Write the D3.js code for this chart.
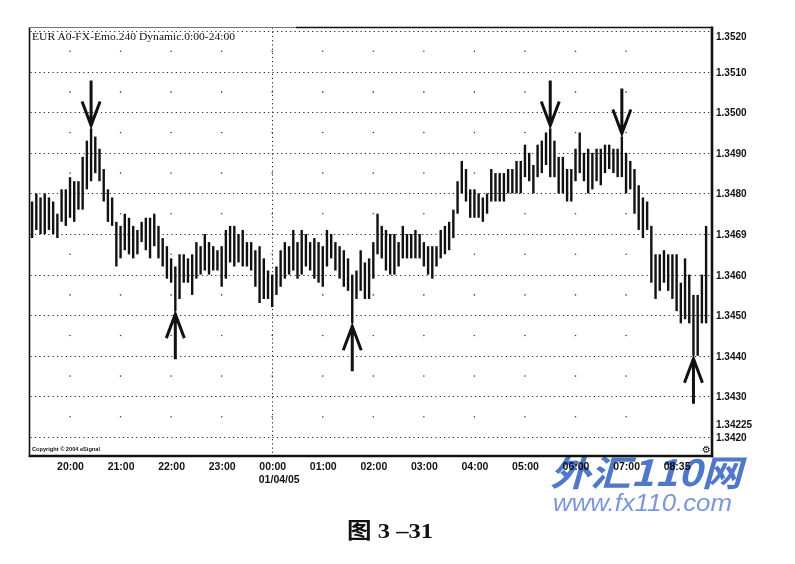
<!DOCTYPE html>
<head>
    <meta charset="utf-8">
    <title>EUR A0-FX 5 min bars</title>
    <script src="https://d3js.org/d3.v7.min.js"></script>
    <style type="text/css">
        html,
        body {
            margin: 0;
            background: #fff;
        }

        svg {
            display: block;
        }
    </style>
</head>

<body>
    <script type="text/javascript">
        // 5 minute bars, 19:15 -> 08:35
        var highs = [
            1.3478, 1.3480, 1.3479, 1.3480, 1.3479, 1.3478, 1.3475, 1.3481, 1.3481, 1.3484,
            1.3483, 1.3483, 1.3489, 1.3493, 1.3496, 1.3494, 1.3491, 1.3486, 1.3481, 1.3479,
            1.3473, 1.3472, 1.3475, 1.3474, 1.3472, 1.3471, 1.3473, 1.3474, 1.3474, 1.3475,
            1.3472, 1.3469, 1.3467, 1.3464, 1.3462, 1.3465, 1.3465, 1.3464, 1.3465, 1.3468,
            1.3467, 1.3470, 1.3468, 1.3467, 1.3466, 1.3467, 1.3471, 1.3472, 1.3472, 1.3470,
            1.3471, 1.3468, 1.3468, 1.3466, 1.3467, 1.3464, 1.3461, 1.3460, 1.3462, 1.3466,
            1.3468, 1.3467, 1.3471, 1.3468, 1.3471, 1.3470, 1.3468, 1.3469, 1.3468, 1.3467,
            1.3471, 1.3470, 1.3468, 1.3467, 1.3466, 1.3464, 1.3460, 1.3461, 1.3466, 1.3463,
            1.3464, 1.3468, 1.3475, 1.3472, 1.3471, 1.3470, 1.3470, 1.3468, 1.3472, 1.3470,
            1.3470, 1.3471, 1.3470, 1.3468, 1.3467, 1.3467, 1.3467, 1.3471, 1.3472, 1.3473,
            1.3476, 1.3483, 1.3488, 1.3486, 1.3481, 1.3481, 1.3480, 1.3479, 1.3480, 1.3486,
            1.3485, 1.3485, 1.3485, 1.3486, 1.3486, 1.3488, 1.3488, 1.3492, 1.3490, 1.3487,
            1.3492, 1.3493, 1.3495, 1.3496, 1.3493, 1.3489, 1.3489, 1.3486, 1.3486, 1.3491,
            1.3495, 1.3490, 1.3491, 1.3490, 1.3491, 1.3491, 1.3492, 1.3492, 1.3491, 1.3491,
            1.3494, 1.3490, 1.3488, 1.3486, 1.3482, 1.3479, 1.3478, 1.3472, 1.3465, 1.3465,
            1.3466, 1.3465, 1.3465, 1.3465, 1.3458, 1.3464, 1.3460, 1.3455, 1.3455, 1.3460,
            1.3472
        ];
        var lows = [
            1.3469, 1.3471, 1.3470, 1.3470, 1.3471, 1.3470, 1.3469, 1.3473, 1.3472, 1.3474,
            1.3473, 1.3476, 1.3476, 1.3481, 1.3483, 1.3485, 1.3483, 1.3478, 1.3473, 1.3472,
            1.3462, 1.3464, 1.3466, 1.3465, 1.3464, 1.3465, 1.3468, 1.3466, 1.3464, 1.3467,
            1.3464, 1.3462, 1.3459, 1.3458, 1.3451, 1.3454, 1.3458, 1.3458, 1.3455, 1.3459,
            1.3460, 1.3461, 1.3460, 1.3461, 1.3461, 1.3457, 1.3459, 1.3463, 1.3462, 1.3463,
            1.3462, 1.3462, 1.3461, 1.3457, 1.3453, 1.3454, 1.3454, 1.3452, 1.3455, 1.3457,
            1.3459, 1.3460, 1.3461, 1.3459, 1.3460, 1.3462, 1.3461, 1.3459, 1.3458, 1.3457,
            1.3462, 1.3464, 1.3461, 1.3459, 1.3457, 1.3456, 1.3448, 1.3454, 1.3456, 1.3454,
            1.3454, 1.3459, 1.3465, 1.3464, 1.3461, 1.3460, 1.3460, 1.3462, 1.3464, 1.3464,
            1.3464, 1.3464, 1.3464, 1.3462, 1.3460, 1.3459, 1.3462, 1.3464, 1.3465, 1.3466,
            1.3469, 1.3475, 1.3480, 1.3478, 1.3474, 1.3474, 1.3474, 1.3473, 1.3475, 1.3478,
            1.3478, 1.3478, 1.3478, 1.3480, 1.3480, 1.3480, 1.3480, 1.3484, 1.3483, 1.3480,
            1.3484, 1.3485, 1.3487, 1.3484, 1.3484, 1.3480, 1.3480, 1.3478, 1.3478, 1.3483,
            1.3485, 1.3483, 1.3480, 1.3481, 1.3483, 1.3482, 1.3485, 1.3486, 1.3485, 1.3484,
            1.3484, 1.3480, 1.3481, 1.3475, 1.3471, 1.3469, 1.3471, 1.3458, 1.3454, 1.3456,
            1.3458, 1.3456, 1.3454, 1.3451, 1.3448, 1.3449, 1.3448, 1.3440, 1.3440, 1.3448,
            1.3448
        ];

        var firstBar = new Date(2005, 0, 3, 19, 15),
            lastBar = new Date(2005, 0, 4, 8, 35);

        var priceTicks = [1.3420, 1.3430, 1.3440, 1.3450, 1.3460, 1.3470, 1.3480, 1.3490, 1.3500, 1.3510, 1.3520];
        var priceLabels = ["1.3420", "1.3430", "1.3440", "1.3450", "1.3460", "1.3469", "1.3480", "1.3490", "1.3500", "1.3510", "1.3520"];
        var lastPrice = 1.34225;

        var hourLabels = ["20:00", "21:00", "22:00", "23:00", "00:00", "01:00", "02:00", "03:00", "04:00", "05:00", "06:00", "07:00", "08:35"];
        var dateLabel = "01/04/05";

        // swing highs / lows marked in the book
        var arrows = [
            { bar: 14, dir: "down" },
            { bar: 34, dir: "up" },
            { bar: 76, dir: "up" },
            { bar: 123, dir: "down" },
            { bar: 140, dir: "down" },
            { bar: 157, dir: "up" }
        ];

        var W = 795, H = 564,
            plotL = 29.5, plotR = 712, plotT = 27.5, plotB = 456;

        var svg = d3.select("body").append("svg")
            .attr("width", W)
            .attr("height", H)
            .attr("font-family", "Liberation Sans, Arial, sans-serif");

        var barTimes = d3.timeMinute.every(5).range(firstBar, d3.timeMinute.offset(lastBar, 1));
        var hourTimes = d3.timeHour.range(new Date(2005, 0, 3, 20), new Date(2005, 0, 4, 8, 1));
        var midnight = new Date(2005, 0, 4, 0, 0);

        var x = d3.scaleTime().domain([firstBar, lastBar]).range([32.1, 706.1]);
        var y = d3.scaleLinear().domain([1.3420, 1.3520]).range([437, 31]);

        var bars = barTimes.map(function(t, i) {
            return { t: t, high: highs[i], low: lows[i] };
        });

        // horizontal dotted grid
        svg.append("g").selectAll("line")
            .data(priceTicks)
            .enter().append("line")
            .attr("x1", plotL + 1).attr("x2", plotR - 1)
            .attr("y1", function(d) { return Math.round(y(d)) + 0.5; })
            .attr("y2", function(d) { return Math.round(y(d)) + 0.5; })
            .attr("stroke", "#222")
            .attr("stroke-width", 1)
            .attr("stroke-dasharray", "1.2,3.2");

        // sparse dots between levels
        var dotTimes = d3.timeHour.range(new Date(2005, 0, 3, 19, 47), new Date(2005, 0, 4, 8, 0));
        var halfLevels = priceTicks.slice(0, -1).map(function(d) { return d + 0.0005; });
        var dots = [];
        dotTimes.forEach(function(t) {
            halfLevels.forEach(function(p) { dots.push([t, p]); });
        });
        svg.append("g").selectAll("circle")
            .data(dots)
            .enter().append("circle")
            .attr("cx", function(d) { return x(d[0]); })
            .attr("cy", function(d) { return y(d[1]); })
            .attr("r", 0.8)
            .attr("fill", "#444");

        // day separator
        svg.append("line")
            .attr("x1", Math.round(x(midnight)) + 0.5).attr("x2", Math.round(x(midnight)) + 0.5)
            .attr("y1", plotT).attr("y2", plotB)
            .attr("stroke", "#222")
            .attr("stroke-dasharray", "1.2,3");

        // price bars
        svg.append("g").selectAll("line")
            .data(bars)
            .enter().append("line")
            .attr("x1", function(d) { return x(d.t); })
            .attr("x2", function(d) { return x(d.t); })
            .attr("y1", function(d) { return y(d.high); })
            .attr("y2", function(d) { return y(d.low); })
            .attr("stroke", "#111")
            .attr("stroke-width", 2.4);

        // arrows
        var gap = 3, len = 45, head = 24, half = 9;
        svg.append("g").selectAll("path")
            .data(arrows)
            .enter().append("path")
            .attr("d", function(a) {
                var b = bars[a.bar], cx = x(b.t), tip, s;
                if (a.dir == "down") {
                    tip = y(b.high) - gap; s = -1;
                } else {
                    tip = y(b.low) + gap; s = 1;
                }
                return "M" + cx + "," + (tip + s * len) + "L" + cx + "," + tip +
                    "M" + (cx - half) + "," + (tip + s * head) + "L" + cx + "," + tip +
                    "L" + (cx + half) + "," + (tip + s * head);
            })
            .attr("fill", "none")
            .attr("stroke", "#111")
            .attr("stroke-width", 3)
            .attr("stroke-linejoin", "miter");

        // frame
        svg.append("line").attr("x1", plotL).attr("x2", plotL).attr("y1", plotT).attr("y2", plotB + 1)
            .attr("stroke", "#111").attr("stroke-width", 1.6);
        svg.append("line").attr("x1", plotR).attr("x2", plotR).attr("y1", plotT - 1).attr("y2", plotB + 1.2)
            .attr("stroke", "#111").attr("stroke-width", 2.6);
        svg.append("line").attr("x1", plotL - 0.8).attr("x2", plotR + 1.2).attr("y1", plotB).attr("y2", plotB)
            .attr("stroke", "#111").attr("stroke-width", 2.6);
        svg.append("line").attr("x1", plotL).attr("x2", 296).attr("y1", plotT).attr("y2", plotT)
            .attr("stroke", "#777").attr("stroke-width", 1);
        svg.append("line").attr("x1", 296).attr("x2", plotR).attr("y1", plotT).attr("y2", plotT)
            .attr("stroke", "#111").attr("stroke-width", 1.5);

        // right price axis
        var yAxis = svg.append("g")
            .attr("transform", "translate(" + (plotR + 1) + ",0)")
            .call(d3.axisRight(y).tickValues(priceTicks)
                .tickFormat(function(d, i) { return priceLabels[i]; })
                .tickSize(0).tickPadding(3));
        yAxis.select(".domain").remove();
        yAxis.attr("font-family", null).attr("font-size", 10);
        yAxis.selectAll("text")
            .attr("font-weight", "bold")
            .attr("fill", "#111")
            .attr("dy", function(d) { return d == 1.3520 ? "0.85em" : "0.35em"; });

        svg.append("text")
            .attr("x", plotR + 4)
            .attr("y", y(lastPrice))
            .attr("dy", "0.1em")
            .attr("font-size", 10)
            .attr("font-weight", "bold")
            .attr("fill", "#111")
            .text(d3.format(".5f")(lastPrice));

        // bottom time axis
        var xAxis = svg.append("g")
            .attr("transform", "translate(0," + plotB + ")")
            .call(d3.axisBottom(x).tickValues(hourTimes)
                .tickFormat(function(d, i) { return hourLabels[i]; })
                .tickSize(0).tickPadding(6.5));
        xAxis.select(".domain").remove();
        xAxis.attr("font-family", null).attr("font-size", 10.5);
        xAxis.selectAll("text")
            .attr("font-weight", "bold")
            .attr("fill", "#111");

        var midLabel = xAxis.selectAll("text").filter(function(d) { return +d == +midnight; }).node();
        var mb = midLabel.getBBox();
        svg.append("text")
            .attr("x", x(midnight) + mb.x)
            .attr("y", 483)
            .attr("font-size", 10.5)
            .attr("font-weight", "bold")
            .attr("fill", "#111")
            .text(dateLabel);

        // title and copyright
        svg.append("text")
            .attr("x", 32)
            .attr("y", 39.5)
            .attr("font-family", "Liberation Serif, Times New Roman, serif")
            .attr("font-size", 11)
            .attr("fill", "#111")
            .attr("textLength", 203)
            .attr("lengthAdjust", "spacingAndGlyphs")
            .text("EUR A0-FX-Emo.240 Dynamic.0:00-24:00");

        svg.append("text")
            .attr("x", 32)
            .attr("y", 451)
            .attr("font-size", 5.5)
            .attr("font-weight", "bold")
            .attr("fill", "#111")
            .attr("textLength", 68)
            .attr("lengthAdjust", "spacingAndGlyphs")
            .text("Copyright \u00a9 2004 eSignal");

        svg.append("text")
            .attr("x", 702)
            .attr("y", 453)
            .attr("font-family", "DejaVu Sans, sans-serif")
            .attr("font-size", 10)
            .attr("font-weight", "bold")
            .attr("fill", "#111")
            .text("\u2699");

        // watermark
        var wm = svg.append("g").style("mix-blend-mode", "multiply");
        wm.append("text")
            .attr("x", 550)
            .attr("y", 486)
            .attr("font-family", "Noto Sans CJK SC, sans-serif")
            .attr("font-size", 36)
            .attr("font-weight", "bold")
            .attr("font-style", "italic")
            .attr("fill", "#4f78c9")
            .attr("textLength", 192)
            .attr("lengthAdjust", "spacingAndGlyphs")
            .text("外汇110网");
        wm.append("text")
            .attr("x", 553)
            .attr("y", 511)
            .attr("font-size", 23)
            .attr("font-style", "italic")
            .attr("fill", "#7b98d6")
            .attr("textLength", 179)
            .attr("lengthAdjust", "spacingAndGlyphs")
            .text("www.fx110.com");

        // caption
        svg.append("text")
            .attr("x", 347)
            .attr("y", 538)
            .attr("font-family", "Liberation Serif, Noto Sans CJK SC, serif")
            .attr("font-size", 22)
            .attr("font-weight", "bold")
            .attr("fill", "#111")
            .attr("textLength", 86)
            .attr("lengthAdjust", "spacingAndGlyphs")
            .text("图 3 \u201331");
    </script>
</body>
